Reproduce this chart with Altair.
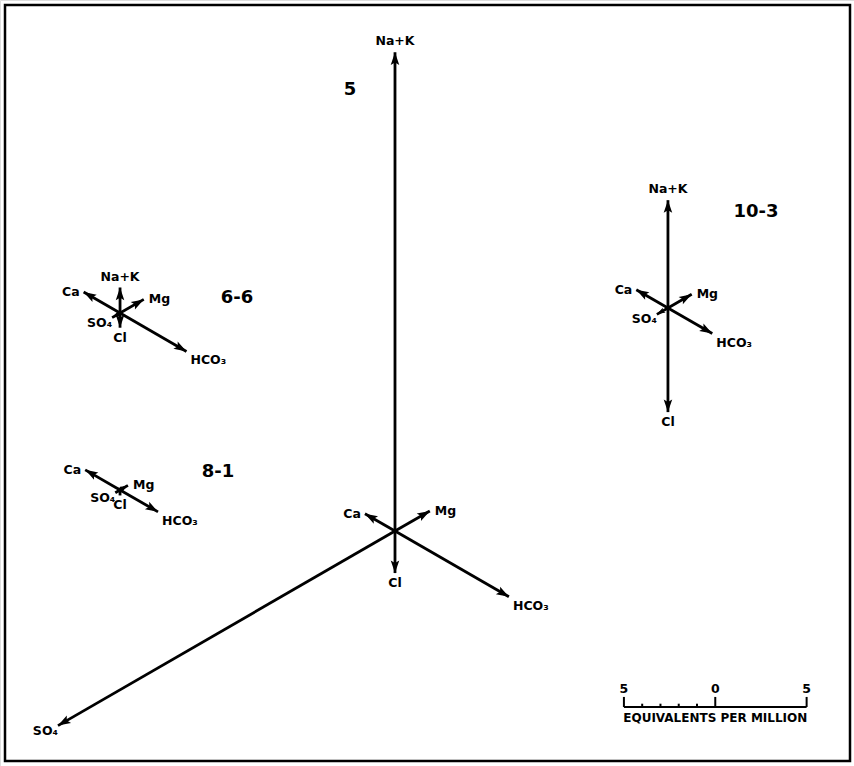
import altair as alt
import pandas as pd
import numpy as np

# ---------------- data (equivalents per million) ----------------
stations = ["5", "6-6", "8-1", "10-3"]
# station origin on the diagram (in epm units of the drawing grid)
center_x = [21.62, 6.57, 6.57, 36.56]
center_y = [12.86, 24.79, 15.11, 25.07]
# station name placement (diagram units)
name_x = [19.16, 12.97, 11.93, 41.38]
name_y = [37.00, 25.62, 16.09, 30.32]

na_k = [26.2, 1.4, 0.0, 5.9]
ca = [1.9, 2.3, 2.2, 2.0]
mg = [2.2, 1.5, 0.5, 1.5]
cl = [2.3, 0.8, 0.3, 5.7]
hco3 = [7.2, 4.2, 2.4, 2.8]
so4 = [21.3, 0.5, 0.3, 0.7]

ions = ["Na+K", "Mg", "HCO3", "Cl", "SO4", "Ca"]
ion_labels = ["Na+K", "Mg", "HCO₃", "Cl", "SO₄", "Ca"]
ion_dir_deg = [90, 30, -30, -90, 210, 150]  # math angle of each axis
ion_values = [na_k, mg, hco3, cl, so4, ca]

scale_ticks = [-5, -4, -3, -2, -1, 0, 5]
scale_tick_labels = ["5", "", "", "", "", "0", "5"]

# ---------------- build tables ----------------
K = 18.27          # pixels per epm
W, H = 854, 766
XMAX, YMAX = W / K, H / K

rows = []
for si, st in enumerate(stations):
    for ion, lab, deg, vals in zip(ions, ion_labels, ion_dir_deg, ion_values):
        v = vals[si]
        if v <= 0:
            continue
        a = np.deg2rad(deg)
        rows.append(dict(
            station=st, ion=ion, label=lab, value=v,
            x0=center_x[si], y0=center_y[si],
            x1=center_x[si] + v * np.cos(a), y1=center_y[si] + v * np.sin(a),
            rot=(90 - deg) % 360,
            head=40 if v >= 0.8 else 18,
        ))
arrows = pd.DataFrame(rows)
names = pd.DataFrame(dict(station=stations, x=name_x, y=name_y))

SB_X, SB_Y = 39.15, 3.23
sb = pd.DataFrame(dict(t=scale_ticks, lab=scale_tick_labels))
sb["x"] = SB_X + sb["t"]
sb["y"] = SB_Y
sb["ytop"] = [SB_Y + (0.55 if l else 0.18) for l in scale_tick_labels]

xs = alt.Scale(domain=[0, XMAX], nice=False, zero=False)
ys = alt.Scale(domain=[0, YMAX], nice=False, zero=False)
X = lambda f: alt.X(f, type="quantitative", scale=xs, axis=None)
Y = lambda f: alt.Y(f, type="quantitative", scale=ys, axis=None)

FONT = "DejaVu Sans"
FS = 12.5
base = alt.Chart(arrows)

shafts = base.mark_rule(color="black", strokeWidth=2.8).encode(
    x=X("x0"), y=Y("y0"), x2="x1", y2="y1")

heads = base.mark_point(
    shape="M0,0L1.35,4L0,3.2L-1.35,4Z", filled=True, color="black", opacity=1,
    strokeWidth=0.5).encode(
    x=X("x1"), y=Y("y1"),
    angle=alt.Angle("rot:Q", scale=None),
    size=alt.Size("head:Q", scale=None))

label_style = {
    "Na+K": dict(align="center", baseline="bottom", dx=0, dy=-4),
    "Cl": dict(align="center", baseline="top", dx=0, dy=4),
    "Ca": dict(align="right", baseline="middle", dx=-4, dy=0),
    "Mg": dict(align="left", baseline="middle", dx=5, dy=0),
    "HCO3": dict(align="left", baseline="top", dx=4, dy=3),
    "SO4": dict(align="right", baseline="middle", dx=0, dy=5),
}
texts = []
for ion, st in label_style.items():
    texts.append(base.transform_filter(alt.datum.ion == ion).mark_text(
        font=FONT, fontWeight="bold", fontSize=FS, color="black", **st
    ).encode(x=X("x1"), y=Y("y1"), text="label:N"))

station_names = alt.Chart(names).mark_text(
    font="DejaVu Sans", fontWeight="bold", fontSize=18, color="black"
).encode(x=X("x"), y=Y("y"), text="station:N")

sb_line = alt.Chart(sb).transform_filter(alt.datum.t == 0).mark_rule(
    color="black", strokeWidth=2).encode(
    x=alt.value((SB_X - 5) * K), x2=alt.value((SB_X + 5) * K),
    y=alt.value(H - SB_Y * K))
sb_ticks = alt.Chart(sb).mark_rule(color="black", strokeWidth=2).encode(
    x=X("x"), y=Y("y"), y2="ytop")
sb_nums = alt.Chart(sb).mark_text(
    font=FONT, fontWeight="bold", fontSize=FS, baseline="bottom", dy=-11
).encode(x=X("x"), y=Y("y"), text="lab:N")
sb_title = alt.Chart(sb).transform_filter(alt.datum.t == 0).mark_text(
    font=FONT, fontWeight="bold", fontSize=12, baseline="top", dy=6
).encode(x=X("x"), y=Y("y"), text=alt.value("EQUIVALENTS PER MILLION"))

frame = alt.Chart(names).transform_filter(alt.datum.station == "5").mark_rect(
    fill=None, fillOpacity=0, stroke="black", strokeWidth=2.5).encode(
    x=alt.value(5), x2=alt.value(850), y=alt.value(5), y2=alt.value(761))

chart = alt.layer(
    frame, shafts, heads, *texts, station_names,
    sb_line, sb_ticks, sb_nums, sb_title
).properties(
    width=W, height=H, padding=0, autosize=alt.AutoSizeParams(type="none")
).configure_view(stroke=None).configure(background="white")

chart.save("out.html", embed_options={"renderer": "svg", "actions": False})
